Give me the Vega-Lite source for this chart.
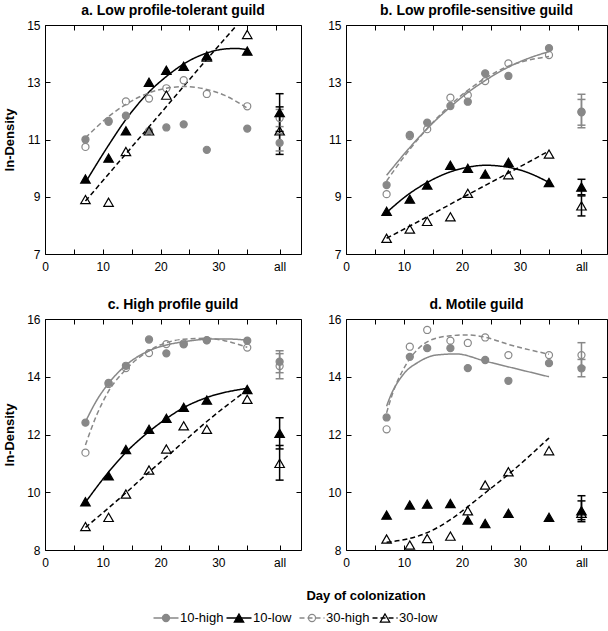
{
  "$schema": "https://vega.github.io/schema/vega-lite/v6.json",
  "padding": {"left": 3, "top": 3, "right": 0, "bottom": 0},
  "background": "white",
  "config": {
    "font": "Liberation Sans",
    "view": {"stroke": "#000", "strokeWidth": 1},
    "axis": {"grid": false, "domain": false, "labelFont": "Liberation Sans", "labelFontSize": 12, "labelColor": "#000", "tickColor": "#000", "tickWidth": 1, "titleColor": "#000", "titleFont": "Liberation Sans", "titleFontSize": 13, "titleFontWeight": "bold"},
    "title": {"font": "Liberation Sans", "fontSize": 14, "fontWeight": "bold", "color": "#000", "offset": 1}
  },
  "datasets": {
    "pts": [
      {"p":"a","s":"10-high","d":7,"v":11.0},{"p":"a","s":"10-high","d":11,"v":11.62},{"p":"a","s":"10-high","d":14,"v":11.83},{"p":"a","s":"10-high","d":18,"v":11.3},{"p":"a","s":"10-high","d":21,"v":11.42},{"p":"a","s":"10-high","d":24,"v":11.53},{"p":"a","s":"10-high","d":28,"v":10.64},{"p":"a","s":"10-high","d":35,"v":11.38},
      {"p":"a","s":"30-high","d":7,"v":10.74},{"p":"a","s":"30-high","d":11,"v":11.65},{"p":"a","s":"30-high","d":14,"v":12.33},{"p":"a","s":"30-high","d":18,"v":12.43},{"p":"a","s":"30-high","d":21,"v":12.79},{"p":"a","s":"30-high","d":24,"v":13.07},{"p":"a","s":"30-high","d":28,"v":12.59},{"p":"a","s":"30-high","d":35,"v":12.16},
      {"p":"a","s":"10-low","d":7,"v":9.62},{"p":"a","s":"10-low","d":11,"v":10.35},{"p":"a","s":"10-low","d":14,"v":11.3},{"p":"a","s":"10-low","d":18,"v":13.0},{"p":"a","s":"10-low","d":21,"v":13.42},{"p":"a","s":"10-low","d":24,"v":13.56},{"p":"a","s":"10-low","d":28,"v":13.92},{"p":"a","s":"10-low","d":35,"v":14.09},
      {"p":"a","s":"30-low","d":7,"v":8.9},{"p":"a","s":"30-low","d":11,"v":8.81},{"p":"a","s":"30-low","d":14,"v":10.58},{"p":"a","s":"30-low","d":18,"v":11.3},{"p":"a","s":"30-low","d":21,"v":12.55},{"p":"a","s":"30-low","d":28,"v":13.88},{"p":"a","s":"30-low","d":35,"v":14.67},
      {"p":"a","s":"10-high","d":40.6,"v":10.88,"lo":10.6,"hi":11.2},{"p":"a","s":"30-high","d":40.6,"v":11.75,"lo":11.45,"hi":12.05},{"p":"a","s":"10-low","d":40.6,"v":11.94,"lo":11.28,"hi":12.6},{"p":"a","s":"30-low","d":40.6,"v":11.3,"lo":10.48,"hi":12.14},

      {"p":"b","s":"10-high","d":7,"v":9.41},{"p":"b","s":"10-high","d":11,"v":11.16},{"p":"b","s":"10-high","d":14,"v":11.59},{"p":"b","s":"10-high","d":18,"v":12.17},{"p":"b","s":"10-high","d":21,"v":12.32},{"p":"b","s":"10-high","d":24,"v":13.31},{"p":"b","s":"10-high","d":28,"v":13.22},{"p":"b","s":"10-high","d":35,"v":14.19},
      {"p":"b","s":"30-high","d":7,"v":9.09},{"p":"b","s":"30-high","d":11,"v":11.12},{"p":"b","s":"30-high","d":14,"v":11.36},{"p":"b","s":"30-high","d":18,"v":12.46},{"p":"b","s":"30-high","d":21,"v":12.55},{"p":"b","s":"30-high","d":24,"v":13.04},{"p":"b","s":"30-high","d":28,"v":13.66},{"p":"b","s":"30-high","d":35,"v":13.95},
      {"p":"b","s":"10-low","d":7,"v":8.49},{"p":"b","s":"10-low","d":11,"v":8.92},{"p":"b","s":"10-low","d":14,"v":9.41},{"p":"b","s":"10-low","d":18,"v":10.1},{"p":"b","s":"10-low","d":21,"v":9.99},{"p":"b","s":"10-low","d":24,"v":9.79},{"p":"b","s":"10-low","d":28,"v":10.2},{"p":"b","s":"10-low","d":35,"v":9.5},
      {"p":"b","s":"30-low","d":7,"v":7.55},{"p":"b","s":"30-low","d":11,"v":7.87},{"p":"b","s":"30-low","d":14,"v":8.14},{"p":"b","s":"30-low","d":18,"v":8.3},{"p":"b","s":"30-low","d":21,"v":9.12},{"p":"b","s":"30-low","d":28,"v":9.77},{"p":"b","s":"30-low","d":35,"v":10.49},
      {"p":"b","s":"10-high","d":40.6,"v":11.97,"lo":11.41,"hi":12.58},{"p":"b","s":"30-high","d":40.6,"v":11.95,"lo":11.5,"hi":12.4},{"p":"b","s":"10-low","d":40.6,"v":9.34,"lo":9.07,"hi":9.61},{"p":"b","s":"30-low","d":40.6,"v":8.68,"lo":8.33,"hi":9.03},

      {"p":"c","s":"10-high","d":7,"v":12.41},{"p":"c","s":"10-high","d":11,"v":13.79},{"p":"c","s":"10-high","d":14,"v":14.38},{"p":"c","s":"10-high","d":18,"v":15.29},{"p":"c","s":"10-high","d":21,"v":14.81},{"p":"c","s":"10-high","d":24,"v":15.12},{"p":"c","s":"10-high","d":28,"v":15.26},{"p":"c","s":"10-high","d":35,"v":15.25},
      {"p":"c","s":"30-high","d":7,"v":11.37},{"p":"c","s":"30-high","d":11,"v":13.75},{"p":"c","s":"30-high","d":14,"v":14.3},{"p":"c","s":"30-high","d":18,"v":14.82},{"p":"c","s":"30-high","d":21,"v":15.13},{"p":"c","s":"30-high","d":24,"v":15.15},{"p":"c","s":"30-high","d":28,"v":15.27},{"p":"c","s":"30-high","d":35,"v":15.01},
      {"p":"c","s":"10-low","d":7,"v":9.67},{"p":"c","s":"10-low","d":11,"v":10.57},{"p":"c","s":"10-low","d":14,"v":11.48},{"p":"c","s":"10-low","d":18,"v":12.18},{"p":"c","s":"10-low","d":21,"v":12.56},{"p":"c","s":"10-low","d":24,"v":12.94},{"p":"c","s":"10-low","d":28,"v":13.19},{"p":"c","s":"10-low","d":35,"v":13.56},
      {"p":"c","s":"30-low","d":7,"v":8.81},{"p":"c","s":"30-low","d":11,"v":9.13},{"p":"c","s":"30-low","d":14,"v":9.94},{"p":"c","s":"30-low","d":18,"v":10.77},{"p":"c","s":"30-low","d":21,"v":11.5},{"p":"c","s":"30-low","d":24,"v":12.3},{"p":"c","s":"30-low","d":28,"v":12.18},{"p":"c","s":"30-low","d":35,"v":13.22},
      {"p":"c","s":"10-high","d":40.6,"v":14.52,"lo":14.14,"hi":14.9},{"p":"c","s":"30-high","d":40.6,"v":14.37,"lo":13.93,"hi":14.8},{"p":"c","s":"10-low","d":40.6,"v":12.04,"lo":11.5,"hi":12.58},{"p":"c","s":"30-low","d":40.6,"v":11.0,"lo":10.42,"hi":11.62},

      {"p":"d","s":"10-high","d":7,"v":12.59},{"p":"d","s":"10-high","d":11,"v":14.69},{"p":"d","s":"10-high","d":14,"v":14.99},{"p":"d","s":"10-high","d":18,"v":14.99},{"p":"d","s":"10-high","d":21,"v":14.3},{"p":"d","s":"10-high","d":24,"v":14.58},{"p":"d","s":"10-high","d":28,"v":13.86},{"p":"d","s":"10-high","d":35,"v":14.47},
      {"p":"d","s":"30-high","d":7,"v":12.18},{"p":"d","s":"30-high","d":11,"v":15.04},{"p":"d","s":"30-high","d":14,"v":15.62},{"p":"d","s":"30-high","d":18,"v":15.25},{"p":"d","s":"30-high","d":21,"v":15.17},{"p":"d","s":"30-high","d":24,"v":15.36},{"p":"d","s":"30-high","d":28,"v":14.75},{"p":"d","s":"30-high","d":35,"v":14.75},
      {"p":"d","s":"10-low","d":7,"v":9.21},{"p":"d","s":"10-low","d":11,"v":9.56},{"p":"d","s":"10-low","d":14,"v":9.59},{"p":"d","s":"10-low","d":18,"v":9.61},{"p":"d","s":"10-low","d":21,"v":9.04},{"p":"d","s":"10-low","d":24,"v":8.92},{"p":"d","s":"10-low","d":28,"v":9.27},{"p":"d","s":"10-low","d":35,"v":9.13},
      {"p":"d","s":"30-low","d":7,"v":8.38},{"p":"d","s":"30-low","d":11,"v":8.17},{"p":"d","s":"30-low","d":14,"v":8.4},{"p":"d","s":"30-low","d":18,"v":8.48},{"p":"d","s":"30-low","d":21,"v":9.36},{"p":"d","s":"30-low","d":24,"v":10.25},{"p":"d","s":"30-low","d":28,"v":10.71},{"p":"d","s":"30-low","d":35,"v":11.44},
      {"p":"d","s":"10-high","d":40.6,"v":14.29,"lo":14.0,"hi":14.6},{"p":"d","s":"30-high","d":40.6,"v":14.75,"lo":14.33,"hi":15.18},{"p":"d","s":"10-low","d":40.6,"v":9.36,"lo":9.05,"hi":9.7},{"p":"d","s":"30-low","d":40.6,"v":9.27,"lo":8.98,"hi":9.88}
    ],
    "cur": [
      {"p":"a","s":"10-low","d":7,"v":9.5},{"p":"a","s":"10-low","d":11,"v":10.8},{"p":"a","s":"10-low","d":14,"v":11.7},{"p":"a","s":"10-low","d":18,"v":12.66},{"p":"a","s":"10-low","d":21,"v":13.2},{"p":"a","s":"10-low","d":24,"v":13.64},{"p":"a","s":"10-low","d":28,"v":14.02},{"p":"a","s":"10-low","d":31,"v":14.16},{"p":"a","s":"10-low","d":33,"v":14.18},{"p":"a","s":"10-low","d":35,"v":14.14},
      {"p":"a","s":"30-low","d":7,"v":8.85},{"p":"a","s":"30-low","d":14,"v":10.5},{"p":"a","s":"30-low","d":21,"v":12.15},{"p":"a","s":"30-low","d":28,"v":13.8},{"p":"a","s":"30-low","d":33.2,"v":15.0},
      {"p":"a","s":"30-high","d":7,"v":11.06},{"p":"a","s":"30-high","d":11,"v":11.8},{"p":"a","s":"30-high","d":14,"v":12.23},{"p":"a","s":"30-high","d":18,"v":12.63},{"p":"a","s":"30-high","d":21,"v":12.79},{"p":"a","s":"30-high","d":24,"v":12.85},{"p":"a","s":"30-high","d":28,"v":12.75},{"p":"a","s":"30-high","d":31,"v":12.55},{"p":"a","s":"30-high","d":35,"v":12.1},
      {"p":"b","s":"10-high","d":7,"v":9.75},{"p":"b","s":"10-high","d":11,"v":10.72},{"p":"b","s":"10-high","d":14,"v":11.38},{"p":"b","s":"10-high","d":18,"v":12.14},{"p":"b","s":"10-high","d":21,"v":12.64},{"p":"b","s":"10-high","d":24,"v":13.06},{"p":"b","s":"10-high","d":28,"v":13.53},{"p":"b","s":"10-high","d":31,"v":13.8},{"p":"b","s":"10-high","d":35,"v":14.07},
      {"p":"b","s":"30-high","d":7,"v":9.55},{"p":"b","s":"30-high","d":11,"v":10.66},{"p":"b","s":"30-high","d":14,"v":11.38},{"p":"b","s":"30-high","d":18,"v":12.21},{"p":"b","s":"30-high","d":21,"v":12.72},{"p":"b","s":"30-high","d":24,"v":13.14},{"p":"b","s":"30-high","d":28,"v":13.56},{"p":"b","s":"30-high","d":31,"v":13.75},{"p":"b","s":"30-high","d":35,"v":13.9},
      {"p":"b","s":"10-low","d":7,"v":8.45},{"p":"b","s":"10-low","d":11,"v":9.12},{"p":"b","s":"10-low","d":14,"v":9.5},{"p":"b","s":"10-low","d":18,"v":9.87},{"p":"b","s":"10-low","d":21,"v":10.03},{"p":"b","s":"10-low","d":24,"v":10.1},{"p":"b","s":"10-low","d":28,"v":10.03},{"p":"b","s":"10-low","d":31,"v":9.87},{"p":"b","s":"10-low","d":35,"v":9.5},
      {"p":"b","s":"30-low","d":7,"v":7.55},{"p":"b","s":"30-low","d":14,"v":8.3},{"p":"b","s":"30-low","d":21,"v":9.07},{"p":"b","s":"30-low","d":28,"v":9.83},{"p":"b","s":"30-low","d":35,"v":10.6},
      {"p":"c","s":"10-high","d":7,"v":12.44},{"p":"c","s":"10-high","d":9,"v":13.2},{"p":"c","s":"10-high","d":11,"v":13.77},{"p":"c","s":"10-high","d":14,"v":14.4},{"p":"c","s":"10-high","d":18,"v":14.9},{"p":"c","s":"10-high","d":21,"v":15.1},{"p":"c","s":"10-high","d":24,"v":15.21},{"p":"c","s":"10-high","d":28,"v":15.3},{"p":"c","s":"10-high","d":31,"v":15.31},{"p":"c","s":"10-high","d":35,"v":15.27},
      {"p":"c","s":"30-high","d":7,"v":11.64},{"p":"c","s":"30-high","d":9,"v":12.7},{"p":"c","s":"30-high","d":11,"v":13.5},{"p":"c","s":"30-high","d":14,"v":14.25},{"p":"c","s":"30-high","d":18,"v":14.9},{"p":"c","s":"30-high","d":21,"v":15.18},{"p":"c","s":"30-high","d":24,"v":15.3},{"p":"c","s":"30-high","d":28,"v":15.33},{"p":"c","s":"30-high","d":31,"v":15.25},{"p":"c","s":"30-high","d":35,"v":15.02},
      {"p":"c","s":"10-low","d":7,"v":9.65},{"p":"c","s":"10-low","d":11,"v":10.7},{"p":"c","s":"10-low","d":14,"v":11.38},{"p":"c","s":"10-low","d":18,"v":12.1},{"p":"c","s":"10-low","d":21,"v":12.55},{"p":"c","s":"10-low","d":24,"v":12.93},{"p":"c","s":"10-low","d":28,"v":13.28},{"p":"c","s":"10-low","d":35,"v":13.6},
      {"p":"c","s":"30-low","d":7,"v":8.78},{"p":"c","s":"30-low","d":14,"v":9.98},{"p":"c","s":"30-low","d":18,"v":10.7},{"p":"c","s":"30-low","d":21,"v":11.22},{"p":"c","s":"30-low","d":24,"v":11.75},{"p":"c","s":"30-low","d":28,"v":12.45},{"p":"c","s":"30-low","d":35,"v":13.54},
      {"p":"d","s":"10-high","d":7,"v":12.98},{"p":"d","s":"10-high","d":7.5,"v":13.25},{"p":"d","s":"10-high","d":9.8,"v":14.06},{"p":"d","s":"10-high","d":12.6,"v":14.52},{"p":"d","s":"10-high","d":15.5,"v":14.75},{"p":"d","s":"10-high","d":19,"v":14.79},{"p":"d","s":"10-high","d":24,"v":14.54},{"p":"d","s":"10-high","d":35,"v":14.0},
      {"p":"d","s":"30-high","d":7,"v":12.75},{"p":"d","s":"30-high","d":8,"v":13.4},{"p":"d","s":"30-high","d":10,"v":14.3},{"p":"d","s":"30-high","d":12.6,"v":15.0},{"p":"d","s":"30-high","d":15,"v":15.3},{"p":"d","s":"30-high","d":18,"v":15.42},{"p":"d","s":"30-high","d":21,"v":15.45},{"p":"d","s":"30-high","d":24,"v":15.37},{"p":"d","s":"30-high","d":28,"v":15.12},{"p":"d","s":"30-high","d":35,"v":14.78},
      {"p":"d","s":"30-low","d":7,"v":8.27},{"p":"d","s":"30-low","d":11,"v":8.4},{"p":"d","s":"30-low","d":14,"v":8.6},{"p":"d","s":"30-low","d":18,"v":9.05},{"p":"d","s":"30-low","d":21,"v":9.5},{"p":"d","s":"30-low","d":24,"v":9.98},{"p":"d","s":"30-low","d":28,"v":10.62},{"p":"d","s":"30-low","d":35,"v":11.88}
    ]
  },
  "vconcat": [
    {
      "vconcat": [
        {
          "hconcat": [
            {
              "title": "a. Low profile-tolerant guild",
              "width": 256, "height": 229,
              "resolve": {"axis": {"x": "independent", "y": "independent"}},
              "layer": [
                {"data": {"name": "cur"}, "transform": [{"filter": "datum.p == 'a'"}],
                 "mark": {"type": "line", "interpolate": "monotone", "strokeWidth": 1.5, "clip": true},
                 "encoding": {
                   "x": {"field": "d", "type": "quantitative", "scale": {"domain": [0, 44.3], "nice": false, "zero": false}, "axis": {"orient": "bottom", "values": [0,5,10,15,20,25,30,35,40.6], "labelExpr": "datum.value == 40.6 ? 'all' : (datum.value % 10 == 0 ? datum.label : '')", "offset": -5, "tickSize": 5, "labelPadding": 7, "labelFlush": false, "labelOverlap": false, "title": null}},
                   "y": {"field": "v", "type": "quantitative", "scale": {"domain": [7, 15], "nice": false, "zero": false}, "axis": {"orient": "left", "values": [7,9,11,13,15], "offset": -5, "tickSize": 5, "labelPadding": 5, "title": "ln-Density", "titlePadding": 10}},
                   "stroke": {"field": "s", "type": "nominal", "scale": {"domain": ["10-high","10-low","30-high","30-low"], "range": ["#888888","#000000","#888888","#000000"]}, "legend": null},
                   "strokeDash": {"field": "s", "type": "nominal", "scale": {"domain": ["10-high","10-low","30-high","30-low"], "range": [[1,0],[1,0],[5,3],[5,3]]}, "legend": null}
                 }},
                {"data": {"name": "pts"}, "transform": [{"filter": "datum.p == 'a' && isValid(datum.lo)"}],
                 "mark": {"type": "rule", "strokeWidth": 1.5},
                 "encoding": {"x": {"field": "d", "type": "quantitative", "axis": null}, "y": {"field": "lo", "type": "quantitative", "axis": null}, "y2": {"field": "hi"}, "stroke": {"field": "s", "type": "nominal", "legend": null}}},
                {"data": {"name": "pts"}, "transform": [{"filter": "datum.p == 'a' && isValid(datum.lo)"}],
                 "mark": {"type": "tick", "orient": "horizontal", "size": 8, "thickness": 1.5, "opacity": 1},
                 "encoding": {"x": {"field": "d", "type": "quantitative", "axis": null}, "y": {"field": "lo", "type": "quantitative", "axis": null}, "color": {"field": "s", "type": "nominal", "scale": {"domain": ["10-high","10-low","30-high","30-low"], "range": ["#888888","#000000","#888888","#000000"]}, "legend": null}}},
                {"data": {"name": "pts"}, "transform": [{"filter": "datum.p == 'a' && isValid(datum.lo)"}],
                 "mark": {"type": "tick", "orient": "horizontal", "size": 8, "thickness": 1.5, "opacity": 1},
                 "encoding": {"x": {"field": "d", "type": "quantitative", "axis": null}, "y": {"field": "hi", "type": "quantitative", "axis": null}, "color": {"field": "s", "type": "nominal", "legend": null}}},
                {"data": {"name": "pts"}, "transform": [{"filter": "datum.p == 'a' && (datum.s == '10-high' || datum.s == '30-high')"}],
                 "mark": {"type": "point", "shape": "circle", "size": 50, "strokeWidth": 1.2, "opacity": 1},
                 "encoding": {
                   "x": {"field": "d", "type": "quantitative", "axis": {"orient": "top", "values": [0,5,10,15,20,25,30,35,40], "labels": false, "offset": -5, "tickSize": 5, "title": null}},
                   "y": {"field": "v", "type": "quantitative", "axis": {"orient": "right", "values": [7,9,11,13,15], "labels": false, "offset": -5, "tickSize": 5, "title": null}},
                   "stroke": {"field": "s", "type": "nominal", "legend": null},
                   "fill": {"field": "s", "type": "nominal", "scale": {"domain": ["10-high","10-low","30-high","30-low"], "range": ["#888888","#000000","transparent","transparent"]}, "legend": null}
                 }},
                {"data": {"name": "pts"}, "transform": [{"filter": "datum.p == 'a' && (datum.s == '10-low' || datum.s == '30-low')"}],
                 "mark": {"type": "point", "shape": "triangle-up", "size": 90, "strokeWidth": 1.2, "opacity": 1},
                 "encoding": {
                   "x": {"field": "d", "type": "quantitative", "axis": null},
                   "y": {"field": "v", "type": "quantitative", "axis": null},
                   "stroke": {"field": "s", "type": "nominal", "legend": null},
                   "fill": {"field": "s", "type": "nominal", "legend": null}
                 }}
              ]
            },
            {
              "title": "b. Low profile-sensitive guild",
              "width": 261, "height": 229,
              "resolve": {"axis": {"x": "independent", "y": "independent"}},
              "layer": [
                {"data": {"name": "cur"}, "transform": [{"filter": "datum.p == 'b'"}],
                 "mark": {"type": "line", "interpolate": "monotone", "strokeWidth": 1.5, "clip": true},
                 "encoding": {
                   "x": {"field": "d", "type": "quantitative", "scale": {"domain": [0, 45], "nice": false, "zero": false}, "axis": {"orient": "bottom", "values": [0,5,10,15,20,25,30,35,40.6], "labelExpr": "datum.value == 40.6 ? 'all' : (datum.value % 10 == 0 ? datum.label : '')", "offset": -5, "tickSize": 5, "labelPadding": 7, "labelFlush": false, "labelOverlap": false, "title": null}},
                   "y": {"field": "v", "type": "quantitative", "scale": {"domain": [7, 15], "nice": false, "zero": false}, "axis": {"orient": "left", "values": [7,9,11,13,15], "offset": -5, "tickSize": 5, "labelPadding": 5, "title": null}},
                   "stroke": {"field": "s", "type": "nominal", "scale": {"domain": ["10-high","10-low","30-high","30-low"], "range": ["#888888","#000000","#888888","#000000"]}, "legend": null},
                   "strokeDash": {"field": "s", "type": "nominal", "scale": {"domain": ["10-high","10-low","30-high","30-low"], "range": [[1,0],[1,0],[5,3],[5,3]]}, "legend": null}
                 }},
                {"data": {"name": "pts"}, "transform": [{"filter": "datum.p == 'b' && isValid(datum.lo)"}],
                 "mark": {"type": "rule", "strokeWidth": 1.5},
                 "encoding": {"x": {"field": "d", "type": "quantitative", "axis": null}, "y": {"field": "lo", "type": "quantitative", "axis": null}, "y2": {"field": "hi"}, "stroke": {"field": "s", "type": "nominal", "legend": null}}},
                {"data": {"name": "pts"}, "transform": [{"filter": "datum.p == 'b' && isValid(datum.lo)"}],
                 "mark": {"type": "tick", "orient": "horizontal", "size": 8, "thickness": 1.5, "opacity": 1},
                 "encoding": {"x": {"field": "d", "type": "quantitative", "axis": null}, "y": {"field": "lo", "type": "quantitative", "axis": null}, "color": {"field": "s", "type": "nominal", "scale": {"domain": ["10-high","10-low","30-high","30-low"], "range": ["#888888","#000000","#888888","#000000"]}, "legend": null}}},
                {"data": {"name": "pts"}, "transform": [{"filter": "datum.p == 'b' && isValid(datum.lo)"}],
                 "mark": {"type": "tick", "orient": "horizontal", "size": 8, "thickness": 1.5, "opacity": 1},
                 "encoding": {"x": {"field": "d", "type": "quantitative", "axis": null}, "y": {"field": "hi", "type": "quantitative", "axis": null}, "color": {"field": "s", "type": "nominal", "legend": null}}},
                {"data": {"name": "pts"}, "transform": [{"filter": "datum.p == 'b' && (datum.s == '10-high' || datum.s == '30-high')"}],
                 "mark": {"type": "point", "shape": "circle", "size": 50, "strokeWidth": 1.2, "opacity": 1},
                 "encoding": {
                   "x": {"field": "d", "type": "quantitative", "axis": {"orient": "top", "values": [0,5,10,15,20,25,30,35,40], "labels": false, "offset": -5, "tickSize": 5, "title": null}},
                   "y": {"field": "v", "type": "quantitative", "axis": {"orient": "right", "values": [7,9,11,13,15], "labels": false, "offset": -5, "tickSize": 5, "title": null}},
                   "stroke": {"field": "s", "type": "nominal", "legend": null},
                   "fill": {"field": "s", "type": "nominal", "scale": {"domain": ["10-high","10-low","30-high","30-low"], "range": ["#888888","#000000","transparent","transparent"]}, "legend": null}
                 }},
                {"data": {"name": "pts"}, "transform": [{"filter": "datum.p == 'b' && (datum.s == '10-low' || datum.s == '30-low')"}],
                 "mark": {"type": "point", "shape": "triangle-up", "size": 90, "strokeWidth": 1.2, "opacity": 1},
                 "encoding": {
                   "x": {"field": "d", "type": "quantitative", "axis": null},
                   "y": {"field": "v", "type": "quantitative", "axis": null},
                   "stroke": {"field": "s", "type": "nominal", "legend": null},
                   "fill": {"field": "s", "type": "nominal", "legend": null}
                 }}
              ]
            }
          ],
          "spacing": 25
        },
        {
          "hconcat": [
            {
              "title": "c. High profile guild",
              "width": 256, "height": 231,
              "resolve": {"axis": {"x": "independent", "y": "independent"}},
              "layer": [
                {"data": {"name": "cur"}, "transform": [{"filter": "datum.p == 'c'"}],
                 "mark": {"type": "line", "interpolate": "monotone", "strokeWidth": 1.5, "clip": true},
                 "encoding": {
                   "x": {"field": "d", "type": "quantitative", "scale": {"domain": [0, 44.3], "nice": false, "zero": false}, "axis": {"orient": "bottom", "values": [0,5,10,15,20,25,30,35,40.6], "labelExpr": "datum.value == 40.6 ? 'all' : (datum.value % 10 == 0 ? datum.label : '')", "offset": -5, "tickSize": 5, "labelPadding": 7, "labelFlush": false, "labelOverlap": false, "title": null}},
                   "y": {"field": "v", "type": "quantitative", "scale": {"domain": [8, 16], "nice": false, "zero": false}, "axis": {"orient": "left", "values": [8,10,12,14,16], "offset": -5, "tickSize": 5, "labelPadding": 5, "title": "ln-Density", "titlePadding": 10}},
                   "stroke": {"field": "s", "type": "nominal", "scale": {"domain": ["10-high","10-low","30-high","30-low"], "range": ["#888888","#000000","#888888","#000000"]}, "legend": null},
                   "strokeDash": {"field": "s", "type": "nominal", "scale": {"domain": ["10-high","10-low","30-high","30-low"], "range": [[1,0],[1,0],[5,3],[5,3]]}, "legend": null}
                 }},
                {"data": {"name": "pts"}, "transform": [{"filter": "datum.p == 'c' && isValid(datum.lo)"}],
                 "mark": {"type": "rule", "strokeWidth": 1.5},
                 "encoding": {"x": {"field": "d", "type": "quantitative", "axis": null}, "y": {"field": "lo", "type": "quantitative", "axis": null}, "y2": {"field": "hi"}, "stroke": {"field": "s", "type": "nominal", "legend": null}}},
                {"data": {"name": "pts"}, "transform": [{"filter": "datum.p == 'c' && isValid(datum.lo)"}],
                 "mark": {"type": "tick", "orient": "horizontal", "size": 8, "thickness": 1.5, "opacity": 1},
                 "encoding": {"x": {"field": "d", "type": "quantitative", "axis": null}, "y": {"field": "lo", "type": "quantitative", "axis": null}, "color": {"field": "s", "type": "nominal", "scale": {"domain": ["10-high","10-low","30-high","30-low"], "range": ["#888888","#000000","#888888","#000000"]}, "legend": null}}},
                {"data": {"name": "pts"}, "transform": [{"filter": "datum.p == 'c' && isValid(datum.lo)"}],
                 "mark": {"type": "tick", "orient": "horizontal", "size": 8, "thickness": 1.5, "opacity": 1},
                 "encoding": {"x": {"field": "d", "type": "quantitative", "axis": null}, "y": {"field": "hi", "type": "quantitative", "axis": null}, "color": {"field": "s", "type": "nominal", "legend": null}}},
                {"data": {"name": "pts"}, "transform": [{"filter": "datum.p == 'c' && (datum.s == '10-high' || datum.s == '30-high')"}],
                 "mark": {"type": "point", "shape": "circle", "size": 50, "strokeWidth": 1.2, "opacity": 1},
                 "encoding": {
                   "x": {"field": "d", "type": "quantitative", "axis": {"orient": "top", "values": [0,5,10,15,20,25,30,35,40], "labels": false, "offset": -5, "tickSize": 5, "title": null}},
                   "y": {"field": "v", "type": "quantitative", "axis": {"orient": "right", "values": [8,10,12,14,16], "labels": false, "offset": -5, "tickSize": 5, "title": null}},
                   "stroke": {"field": "s", "type": "nominal", "legend": null},
                   "fill": {"field": "s", "type": "nominal", "scale": {"domain": ["10-high","10-low","30-high","30-low"], "range": ["#888888","#000000","transparent","transparent"]}, "legend": null}
                 }},
                {"data": {"name": "pts"}, "transform": [{"filter": "datum.p == 'c' && (datum.s == '10-low' || datum.s == '30-low')"}],
                 "mark": {"type": "point", "shape": "triangle-up", "size": 90, "strokeWidth": 1.2, "opacity": 1},
                 "encoding": {
                   "x": {"field": "d", "type": "quantitative", "axis": null},
                   "y": {"field": "v", "type": "quantitative", "axis": null},
                   "stroke": {"field": "s", "type": "nominal", "legend": null},
                   "fill": {"field": "s", "type": "nominal", "legend": null}
                 }}
              ]
            },
            {
              "title": "d. Motile guild",
              "width": 261, "height": 231,
              "resolve": {"axis": {"x": "independent", "y": "independent"}},
              "layer": [
                {"data": {"name": "cur"}, "transform": [{"filter": "datum.p == 'd'"}],
                 "mark": {"type": "line", "interpolate": "monotone", "strokeWidth": 1.5, "clip": true},
                 "encoding": {
                   "x": {"field": "d", "type": "quantitative", "scale": {"domain": [0, 45], "nice": false, "zero": false}, "axis": {"orient": "bottom", "values": [0,5,10,15,20,25,30,35,40.6], "labelExpr": "datum.value == 40.6 ? 'all' : (datum.value % 10 == 0 ? datum.label : '')", "offset": -5, "tickSize": 5, "labelPadding": 7, "labelFlush": false, "labelOverlap": false, "title": null}},
                   "y": {"field": "v", "type": "quantitative", "scale": {"domain": [8, 16], "nice": false, "zero": false}, "axis": {"orient": "left", "values": [8,10,12,14,16], "offset": -5, "tickSize": 5, "labelPadding": 5, "title": null}},
                   "stroke": {"field": "s", "type": "nominal", "scale": {"domain": ["10-high","10-low","30-high","30-low"], "range": ["#888888","#000000","#888888","#000000"]}, "legend": null},
                   "strokeDash": {"field": "s", "type": "nominal", "scale": {"domain": ["10-high","10-low","30-high","30-low"], "range": [[1,0],[1,0],[5,3],[5,3]]}, "legend": null}
                 }},
                {"data": {"name": "pts"}, "transform": [{"filter": "datum.p == 'd' && isValid(datum.lo)"}],
                 "mark": {"type": "rule", "strokeWidth": 1.5},
                 "encoding": {"x": {"field": "d", "type": "quantitative", "axis": null}, "y": {"field": "lo", "type": "quantitative", "axis": null}, "y2": {"field": "hi"}, "stroke": {"field": "s", "type": "nominal", "legend": null}}},
                {"data": {"name": "pts"}, "transform": [{"filter": "datum.p == 'd' && isValid(datum.lo)"}],
                 "mark": {"type": "tick", "orient": "horizontal", "size": 8, "thickness": 1.5, "opacity": 1},
                 "encoding": {"x": {"field": "d", "type": "quantitative", "axis": null}, "y": {"field": "lo", "type": "quantitative", "axis": null}, "color": {"field": "s", "type": "nominal", "scale": {"domain": ["10-high","10-low","30-high","30-low"], "range": ["#888888","#000000","#888888","#000000"]}, "legend": null}}},
                {"data": {"name": "pts"}, "transform": [{"filter": "datum.p == 'd' && isValid(datum.lo)"}],
                 "mark": {"type": "tick", "orient": "horizontal", "size": 8, "thickness": 1.5, "opacity": 1},
                 "encoding": {"x": {"field": "d", "type": "quantitative", "axis": null}, "y": {"field": "hi", "type": "quantitative", "axis": null}, "color": {"field": "s", "type": "nominal", "legend": null}}},
                {"data": {"name": "pts"}, "transform": [{"filter": "datum.p == 'd' && (datum.s == '10-high' || datum.s == '30-high')"}],
                 "mark": {"type": "point", "shape": "circle", "size": 50, "strokeWidth": 1.2, "opacity": 1},
                 "encoding": {
                   "x": {"field": "d", "type": "quantitative", "axis": {"orient": "top", "values": [0,5,10,15,20,25,30,35,40], "labels": false, "offset": -5, "tickSize": 5, "title": null}},
                   "y": {"field": "v", "type": "quantitative", "axis": {"orient": "right", "values": [8,10,12,14,16], "labels": false, "offset": -5, "tickSize": 5, "title": null}},
                   "stroke": {"field": "s", "type": "nominal", "legend": null},
                   "fill": {"field": "s", "type": "nominal", "scale": {"domain": ["10-high","10-low","30-high","30-low"], "range": ["#888888","#000000","transparent","transparent"]}, "legend": null}
                 }},
                {"data": {"name": "pts"}, "transform": [{"filter": "datum.p == 'd' && (datum.s == '10-low' || datum.s == '30-low')"}],
                 "mark": {"type": "point", "shape": "triangle-up", "size": 90, "strokeWidth": 1.2, "opacity": 1},
                 "encoding": {
                   "x": {"field": "d", "type": "quantitative", "axis": null},
                   "y": {"field": "v", "type": "quantitative", "axis": null},
                   "stroke": {"field": "s", "type": "nominal", "legend": null},
                   "fill": {"field": "s", "type": "nominal", "legend": null}
                 }}
              ]
            }
          ],
          "spacing": 25
        }
      ],
      "spacing": 24
    },
    {
      "title": {"text": "Day of colonization", "fontSize": 13, "anchor": "middle", "dx": 41, "offset": 8},
      "width": 560, "height": 14,
      "view": {"stroke": null},
      "data": {"values": [{"s": "10-high"}, {"s": "10-low"}, {"s": "30-high"}, {"s": "30-low"}]},
      "encoding": {"x": {"field": "s", "type": "nominal", "scale": {"type": "point", "domain": ["10-high","10-low","30-high","30-low"], "range": [121, 340], "padding": 0}, "axis": null}},
      "layer": [
        {"mark": {"type": "point", "shape": "M-1,0L1,0", "size": 625, "strokeWidth": 1.5, "opacity": 1, "filled": false},
         "encoding": {
           "stroke": {"field": "s", "type": "nominal", "scale": {"domain": ["10-high","10-low","30-high","30-low"], "range": ["#888888","#000000","#888888","#000000"]}, "legend": null},
           "strokeDash": {"field": "s", "type": "nominal", "scale": {"domain": ["10-high","10-low","30-high","30-low"], "range": [[1,0],[1,0],[5,3],[5,3]]}, "legend": null}
         }},
        {"transform": [{"filter": "datum.s == '10-high' || datum.s == '30-high'"}],
         "mark": {"type": "point", "shape": "circle", "size": 50, "strokeWidth": 1.2, "opacity": 1},
         "encoding": {
           "stroke": {"field": "s", "type": "nominal", "legend": null},
           "fill": {"field": "s", "type": "nominal", "scale": {"domain": ["10-high","10-low","30-high","30-low"], "range": ["#888888","#000000","transparent","transparent"]}, "legend": null}
         }},
        {"transform": [{"filter": "datum.s == '10-low' || datum.s == '30-low'"}],
         "mark": {"type": "point", "shape": "triangle-up", "size": 90, "strokeWidth": 1.2, "opacity": 1},
         "encoding": {
           "stroke": {"field": "s", "type": "nominal", "legend": null},
           "fill": {"field": "s", "type": "nominal", "legend": null}
         }},
        {"mark": {"type": "text", "align": "left", "dx": 14, "fontSize": 13, "font": "Liberation Sans", "color": "#000"},
         "encoding": {"text": {"field": "s", "type": "nominal"}}}
      ]
    }
  ],
  "spacing": 21
}
